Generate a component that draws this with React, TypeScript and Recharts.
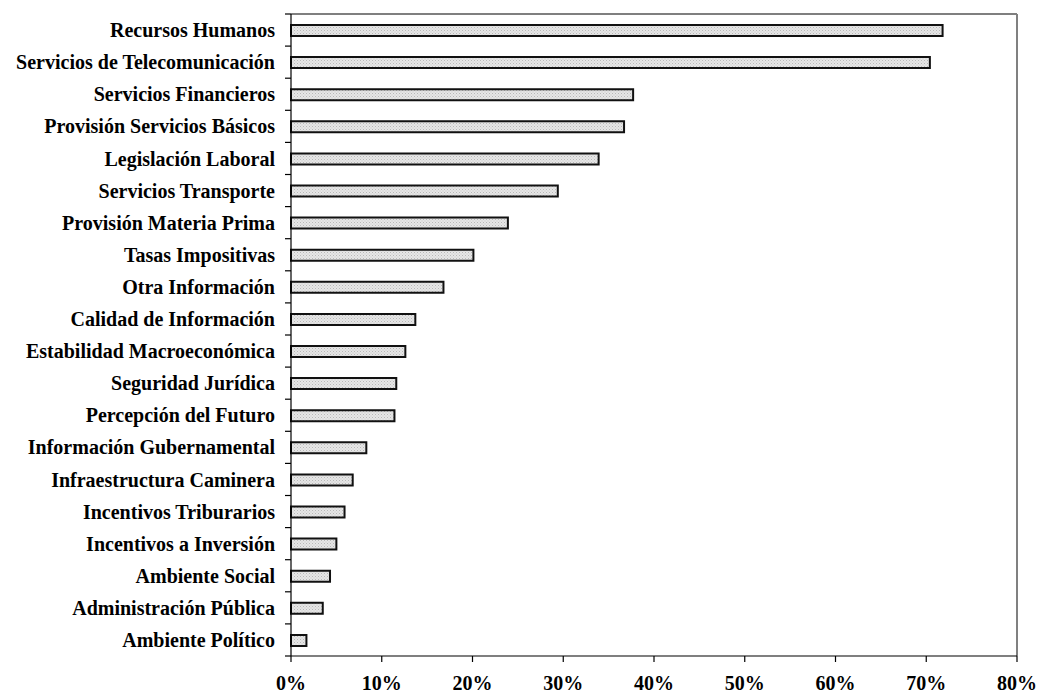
import React from "react";
import { BarChart, Bar, XAxis, YAxis, CartesianGrid } from "recharts";

const categories = [
  "Recursos Humanos",
  "Servicios de Telecomunicación",
  "Servicios Financieros",
  "Provisión Servicios Básicos",
  "Legislación Laboral",
  "Servicios Transporte",
  "Provisión Materia Prima",
  "Tasas Impositivas",
  "Otra Información",
  "Calidad de Información",
  "Estabilidad Macroeconómica",
  "Seguridad Jurídica",
  "Percepción del Futuro",
  "Información Gubernamental",
  "Infraestructura Caminera",
  "Incentivos Triburarios",
  "Incentivos a Inversión",
  "Ambiente Social",
  "Administración Pública",
  "Ambiente Político",
];

const values = [
  71.8, 70.4, 37.7, 36.7, 33.9, 29.4, 23.9, 20.1, 16.8, 13.7, 12.6, 11.6, 11.4,
  8.3, 6.8, 5.9, 5.0, 4.3, 3.5, 1.7,
];

const xTicks = [0, 10, 20, 30, 40, 50, 60, 70, 80];

const data = categories.map((name, i) => ({ name, value: values[i] }));

const FONT = "'Liberation Serif', 'Times New Roman', serif";

function YTick(props: any) {
  const { x, y, payload, index, visibleTicksCount } = props;
  const half =
    payload && typeof payload.offset === "number" && payload.offset > 0
      ? payload.offset
      : 642 / categories.length / 2;
  const ax = x + 16;
  const isLast = index === (visibleTicksCount ?? categories.length) - 1;
  return (
    <g>
      <line x1={ax - 6} x2={ax} y1={y - half} y2={y - half} stroke="#000" strokeWidth={1.2} />
      {isLast && (
        <line x1={ax - 6} x2={ax} y1={y + half} y2={y + half} stroke="#000" strokeWidth={1.2} />
      )}
      <text
        x={x}
        y={y}
        dy="0.355em"
        textAnchor="end"
        fontFamily={FONT}
        fontWeight="bold"
        fontSize={20}
        fill="#000"
      >
        {payload.value}
      </text>
    </g>
  );
}

export default function App() {
  return (
    <div style={{ position: "absolute", left: 0, top: 0, width: 1039, height: 695, background: "#fff" }}>
      <BarChart
        width={1039}
        height={695}
        data={data}
        layout="vertical"
        margin={{ top: 14, right: 22, bottom: 0, left: 0 }}
      >
        <defs>
          <pattern id="dots" width="3" height="3" patternUnits="userSpaceOnUse">
            <rect width="3" height="3" fill="#e6e6e6" />
            <rect x="0" y="0" width="1" height="1" fill="#b8b8b8" />
            <rect x="1.5" y="1.5" width="1" height="1" fill="#c8c8c8" />
          </pattern>
        </defs>
        <CartesianGrid
          vertical={false}
          horizontal={true}
          stroke="#000"
          strokeWidth={1.2}
          horizontalCoordinatesGenerator={({ offset }: any) => [offset.top]}
        />
        <CartesianGrid
          vertical={true}
          horizontal={false}
          stroke="#808080"
          strokeWidth={2}
          verticalCoordinatesGenerator={({ offset }: any) => [offset.left + offset.width]}
        />
        <XAxis
          type="number"
          domain={[0, 80]}
          ticks={xTicks}
          tickFormatter={(v: number) => `${v}%`}
          height={39}
          tickSize={6}
          tickMargin={14}
          interval={0}
          axisLine={{ stroke: "#000", strokeWidth: 1.2 }}
          tickLine={{ stroke: "#000", strokeWidth: 1.2 }}
          tick={{ fontFamily: FONT, fontWeight: "bold", fontSize: 20, fill: "#000" }}
        />
        <YAxis
          type="category"
          dataKey="name"
          width={291}
          tickSize={6}
          tickMargin={10}
          interval={0}
          tickLine={false}
          axisLine={{ stroke: "#000", strokeWidth: 1.2 }}
          tick={<YTick />}
        />
        <Bar
          dataKey="value"
          barSize={11}
          fill="url(#dots)"
          stroke="#111"
          strokeWidth={2}
          isAnimationActive={false}
        />
      </BarChart>
    </div>
  );
}
